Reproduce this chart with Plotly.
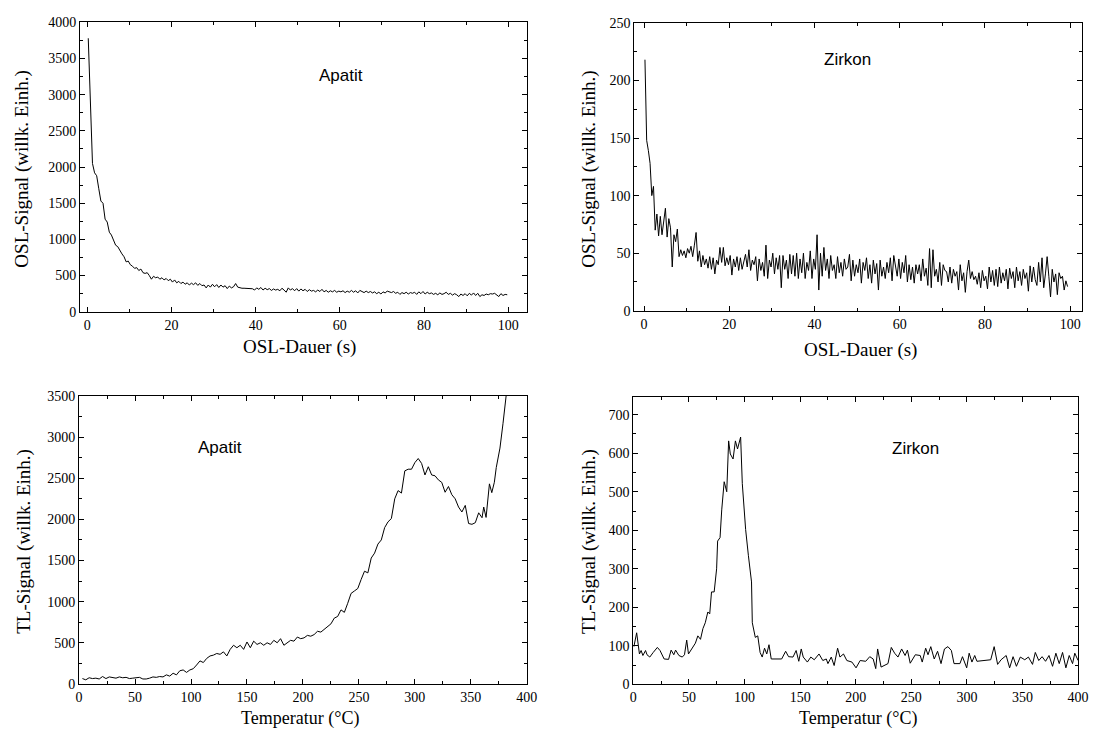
import plotly.graph_objects as go

# -------------------------------------------------------------------
# Data
# -------------------------------------------------------------------
# OSL Apatit: sampled every 0.5 s starting at 0.25 s
osl_apatit = [
    3780, 2800, 2050, 1920, 1880, 1700, 1530, 1500, 1280, 1240,
    1100, 1060, 980, 920, 900, 840, 800, 760, 690, 700,
    650, 630, 600, 610, 570, 590, 540, 530, 540, 500,
    450, 490, 470, 480, 450, 470, 440, 460, 430, 450,
    410, 440, 400, 420, 390, 410, 380, 400, 370, 395,
    375, 400, 365, 390, 360, 370, 330, 370, 340, 380,
    345, 375, 335, 370, 340, 360, 320, 355, 330, 345,
    390, 340, 330, 325, 325, 322, 320, 320, 318, 300,
    330, 310, 335, 300, 325, 305, 320, 295, 315, 300,
    310, 290, 325, 300, 270, 330, 300, 320, 290, 320,
    285, 315, 290, 310, 280, 305, 285, 295, 275, 300,
    280, 310, 275, 295, 270, 290, 275, 295, 270, 285,
    275, 290, 265, 285, 270, 295, 270, 290, 260, 295,
    280, 265, 285, 265, 280, 260, 275, 250, 270, 245,
    275, 260, 285, 280, 265, 280, 255, 270, 240, 265,
    250, 270, 245, 265, 255, 270, 240, 275, 250, 280,
    245, 270, 250, 260, 240, 255, 235, 260, 240, 250,
    270, 240, 255, 230, 250, 235, 210, 245, 225, 250,
    220, 255, 230, 260, 225, 255, 210, 235, 225, 245,
    235, 250, 245, 255, 230, 210, 250, 225, 240, 235,
]
osl_apatit_t = [0.25 + 0.5 * i for i in range(len(osl_apatit))]

# OSL Zirkon: sampled every 0.4 s starting at 0.2 s
osl_zirkon = [
    218, 148, 139, 128, 100, 108, 70, 84, 65, 82,
    66, 80, 89, 64, 80, 72, 38, 66, 60, 71,
    47, 53, 48, 52, 46, 54, 50, 56, 47, 57,
    68, 43, 52, 38, 48, 40, 45, 37, 47, 36,
    46, 32, 44, 40, 55, 42, 55, 39, 46, 40,
    48, 31, 45, 38, 47, 35, 46, 36, 44, 49,
    38, 53, 35, 44, 40, 47, 26, 45, 35, 42,
    30, 57, 28, 44, 38, 50, 32, 46, 36, 48,
    20, 48, 36, 44, 28, 49, 32, 48, 30, 50,
    28, 45, 33, 50, 28, 42, 35, 52, 28, 45,
    36, 66, 18, 50, 30, 55, 35, 45, 28, 48,
    35, 40, 28, 47, 33, 42, 30, 45, 36, 38,
    49, 26, 44, 30, 40, 33, 45, 24, 42, 35,
    46, 28, 40, 24, 44, 32, 41, 18, 44, 30,
    38, 28, 42, 33, 46, 26, 48, 40, 30, 45,
    28, 42, 33, 48, 25, 40, 27, 38, 24, 40,
    32, 40, 26, 45, 30, 37, 22, 54, 20, 53,
    30, 36, 25, 42, 22, 40, 35, 34, 25, 38,
    24, 36, 30, 34, 18, 40, 26, 33, 16, 34,
    44, 28, 34, 27, 30, 23, 33, 20, 35, 26,
    30, 19, 38, 25, 35, 22, 36, 21, 38, 24,
    33, 26, 36, 19, 37, 28, 34, 20, 38, 26,
    34, 22, 36, 28, 33, 17, 39, 25, 38, 27,
    22, 42, 25, 46, 20, 32, 47, 30, 12, 36,
    25, 32, 14, 33, 28, 30, 18, 26, 21,
]
osl_zirkon_t = [0.2 + 0.4 * i for i in range(len(osl_zirkon))]

# TL Apatit
tl_apatit_temp = [
    3, 6, 9, 12, 15, 18, 21, 24, 27, 30, 33, 36, 39, 42, 45, 48, 51, 54, 57, 60,
    63, 66, 69, 72, 75, 78, 81, 84, 87, 90, 93, 96, 99, 102, 105, 108, 111, 114, 117, 120,
    123, 126, 129, 132, 135, 138, 141, 144, 147, 150, 153, 156, 159, 162, 165, 168, 171, 174, 177, 180,
    183, 186, 189, 192, 195, 198, 201, 204, 207, 210, 213, 216, 219, 222, 225, 228, 231, 234, 237, 240,
    243, 246, 249, 252, 255, 258, 261, 264, 267, 270, 273, 276, 279, 282, 285, 288, 291, 294, 297, 300,
    303, 306, 309, 312, 315, 318, 321, 324, 327, 330, 333, 336, 339, 342, 345, 348, 351, 354, 357, 360,
    361.5, 363.6, 366.6, 368.7, 371, 372.7, 376, 378.7, 381, 384,
]
tl_apatit = [
    65, 50, 75, 65, 70, 60, 90, 65, 85, 75, 70, 85, 75, 80, 65, 70, 75, 80, 60, 60,
    70, 85, 80, 90, 85, 110, 95, 130, 110, 160, 170, 140, 170, 185, 230, 280, 260, 310, 340, 350,
    370, 360, 390, 340, 420, 470, 440, 470, 420, 510, 440, 520, 480, 500, 470, 500, 480, 530, 500, 550,
    470, 500, 530, 520, 570, 550, 560, 590, 580, 600, 640, 630, 660, 700, 730, 800, 820, 900, 870, 980,
    1100, 1130, 1160, 1270, 1370, 1350, 1530, 1590, 1700, 1750, 1900, 1970, 2010, 2250, 2350, 2320, 2590, 2610, 2610, 2690,
    2740, 2680, 2540, 2640, 2540, 2530, 2480, 2450, 2330, 2400, 2300, 2250, 2150, 2090, 2170, 1950, 1940, 1960, 2080, 2020,
    2150, 2024, 2432, 2325, 2451, 2630, 2867, 3163, 3500, 3800,
]

# TL Zirkon
tl_zirkon_temp = [
    0.5, 3, 5.5, 7, 8.6, 11, 12.3, 14.8, 17.9, 21.6, 24, 27.7, 31.7, 34, 36.4, 38, 41, 44, 46, 48,
    49.6, 53, 55.8, 58, 60.4, 62.6, 64.7, 67, 68.7, 70.3, 72.7, 74.9, 75.8, 78, 79.5, 81.7, 84, 85.7, 87.2, 89.7,
    91.8, 93.7, 96.5, 98, 101, 103.5, 106.3, 107, 109.7, 111.9, 114, 115.9, 118, 120, 122, 124, 127, 133.4, 137, 139.6,
    143.6, 146.4, 148.8, 151, 152.8, 156.5, 159.6, 162.7, 167, 170.4, 173.5, 175, 178, 180.6, 183.7, 185.8, 189, 192, 196.6, 200.3,
    204, 209, 212.6, 215.7, 218, 219.7, 222.8, 226, 229, 232, 235, 238, 241.3, 244.4, 246.5, 249, 253.6, 258, 259.8, 262.9,
    265, 267.5, 270.6, 273.6, 276.7, 279.8, 282.9, 286, 288.4, 293.7, 296, 299.8, 302, 304.5, 307, 309, 321.4, 324.5, 327.6, 330.7,
    335.3, 338.4, 341.5, 344.5, 348, 352, 355.3, 359, 361.5, 364.6, 367.6, 370.7, 373.8, 377, 380, 383, 386, 389, 392, 395,
    397, 400,
]
tl_zirkon = [
    98, 134, 79, 88, 75, 88, 77, 71, 83, 96, 88, 66, 65, 89, 77, 89, 75, 71, 77, 115,
    79, 96, 107, 126, 117, 145, 160, 188, 183, 240, 240, 300, 372, 381, 453, 526, 500, 632, 598, 585,
    632, 611, 642, 521, 402, 334, 266, 160, 122, 126, 83, 71, 94, 79, 103, 66, 66, 66, 86, 72,
    71, 88, 60, 92, 71, 58, 71, 64, 79, 62, 66, 54, 71, 49, 94, 71, 79, 62, 58, 43,
    62, 60, 72, 66, 41, 92, 45, 49, 54, 96, 81, 71, 92, 75, 89, 55, 77, 75, 58, 94,
    77, 98, 66, 86, 54, 92, 98, 88, 54, 54, 72, 43, 81, 58, 75, 60, 64, 98, 52, 64,
    75, 43, 72, 47, 71, 64, 71, 52, 83, 62, 72, 60, 75, 47, 81, 54, 83, 43, 75, 54,
    81, 62,
]

# -------------------------------------------------------------------
# Geometry: the page body keeps its 8px margin on every side, so the
# figure is 16px smaller than the window; positions are screen pixels.
# -------------------------------------------------------------------
PAGE_W, PAGE_H = 1106, 744
OFF = 8
W, H = PAGE_W - 2 * OFF, PAGE_H - 2 * OFF
def px_x(v): return (v - OFF) / W
def px_y(v): return 1 - (v - OFF) / H

SERIF = "Liberation Serif, Times New Roman, serif"
SANS = "Liberation Sans, Arial, sans-serif"
LINE = dict(color="black", width=1)

fig = go.Figure()
fig.add_trace(go.Scatter(x=osl_apatit_t, y=osl_apatit, mode="lines", line=LINE, xaxis="x", yaxis="y"))
fig.add_trace(go.Scatter(x=osl_zirkon_t, y=osl_zirkon, mode="lines", line=LINE, xaxis="x2", yaxis="y2"))
fig.add_trace(go.Scatter(x=tl_apatit_temp, y=tl_apatit, mode="lines", line=LINE, xaxis="x3", yaxis="y3"))
fig.add_trace(go.Scatter(x=tl_zirkon_temp, y=tl_zirkon, mode="lines", line=LINE, xaxis="x4", yaxis="y4"))


def axis(domain, anchor, rng, dtick, minor_dtick):
    return dict(
        domain=domain, anchor=anchor, range=rng,
        tick0=0, dtick=dtick, ticks="inside", ticklen=5, tickcolor="black",
        minor=dict(dtick=minor_dtick, tick0=0, ticks="inside", ticklen=3, tickcolor="black"),
        showline=True, linecolor="black", linewidth=1, mirror="ticks",
        showgrid=False, zeroline=False,
        tickfont=dict(family=SERIF, size=14, color="black"),
    )


fig.update_layout(
    width=W, height=H,
    margin=dict(l=0, r=0, t=0, b=0),
    paper_bgcolor="white", plot_bgcolor="white",
    showlegend=False,
    xaxis=axis([px_x(77), px_x(530)], "y", [-1.7, 104.4], 20, 10),
    yaxis=axis([px_y(311), px_y(15.5)], "x", [0, 4000], 500, 250),
    xaxis2=axis([px_x(639), px_x(1093)], "y2", [-2.3, 102.8], 20, 10),
    yaxis2=axis([px_y(310), px_y(16)], "x2", [0, 250], 50, 25),
    xaxis3=axis([px_x(76), px_x(530)], "y3", [0, 400], 50, 25),
    yaxis3=axis([px_y(691), px_y(397)], "x3", [0, 3500], 500, 250),
    xaxis4=axis([px_x(638), px_x(1089)], "y4", [0, 400], 50, 25),
    yaxis4=axis([px_y(691.5), px_y(398)], "x4", [0, 746], 100, 50),
)

# -------------------------------------------------------------------
# Labels as paper annotations (screen pixel centres)
# -------------------------------------------------------------------
labels = [
    ("OSL-Signal (willk. Einh.)", 18, 165, -90, SERIF, 19),
    ("OSL-Dauer (s)", 300, 347, 0, SERIF, 19),
    ("OSL-Signal (willk. Einh.)", 593, 165, -90, SERIF, 19),
    ("OSL-Dauer (s)", 868, 350, 0, SERIF, 19),
    ("TL-Signal (willk. Einh.)", 20, 545, -90, SERIF, 19),
    ("Temperatur (°C)", 300, 726, 0, SERIF, 18),
    ("TL-Signal (willk. Einh.)", 593, 545, -90, SERIF, 19),
    ("Temperatur (°C)", 866, 726, 0, SERIF, 18),
    ("Apatit", 342, 70, 0, SANS, 17),
    ("Zirkon", 855, 53, 0, SANS, 17),
    ("Apatit", 219, 450, 0, SANS, 17),
    ("Zirkon", 924, 451, 0, SANS, 17),
]
for text, x, y, angle, family, size in labels:
    fig.add_annotation(
        x=px_x(x), y=px_y(y), xref="paper", yref="paper",
        text=text, showarrow=False, textangle=angle,
        xanchor="center", yanchor="middle",
        font=dict(family=family, size=size, color="black"),
    )

fig.write_html("out.html")
